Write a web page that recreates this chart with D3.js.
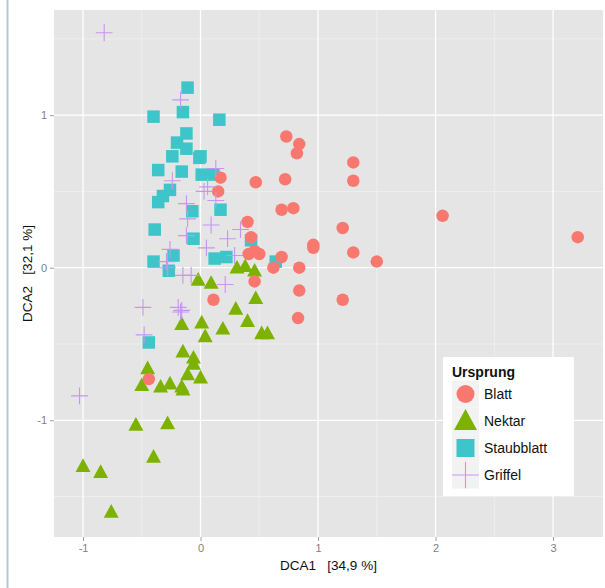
<!DOCTYPE html>
<html>
<head>
<meta charset="utf-8">
<script src="https://cdn.jsdelivr.net/npm/d3@7"></script>
<style>
  body { margin: 0; background: #fff; }
  svg { display: block; font-family: "Liberation Sans", Arial, sans-serif; }
</style>
</head>
<body>
<svg width="605" height="588"></svg>
<script>
// DCA scores: [DCA1, DCA2]
const blatt = [
  [0.73, 0.86], [0.84, 0.81], [0.82, 0.75], [1.30, 0.69], [1.30, 0.57],
  [0.17, 0.59], [0.15, 0.50], [0.47, 0.56], [0.72, 0.58], [0.69, 0.38],
  [0.79, 0.39], [0.40, 0.30], [1.21, 0.26], [2.06, 0.34], [3.21, 0.20],
  [0.43, 0.20], [0.96, 0.15], [0.96, 0.13], [1.30, 0.10], [1.50, 0.04],
  [0.41, 0.09], [0.50, 0.09], [0.46, 0.11], [0.69, 0.07], [0.62, 0.00],
  [0.84, 0.00], [0.46, -0.09], [0.84, -0.15], [1.21, -0.21], [0.83, -0.33],
  [0.11, -0.21], [-0.44, -0.73]
];
const nektar = [
  [0.31, 0.00], [0.38, 0.01], [0.46, -0.02], [-0.02, -0.08], [0.09, -0.10],
  [0.47, -0.20], [0.30, -0.27], [-0.16, -0.37], [0.01, -0.36], [0.04, -0.45],
  [0.19, -0.40], [0.40, -0.35], [0.52, -0.43], [0.57, -0.43], [-0.15, -0.55],
  [-0.06, -0.59], [-0.06, -0.63], [-0.11, -0.70], [0.00, -0.72], [-0.45, -0.66],
  [-0.50, -0.77], [-0.34, -0.78], [-0.26, -0.76], [-0.16, -0.78], [-0.15, -0.80],
  [-0.55, -1.03], [-0.28, -1.02], [-0.40, -1.24], [-1.00, -1.30], [-0.85, -1.34],
  [-0.76, -1.60]
];
const staubblatt = [
  [-0.11, 1.18], [-0.40, 0.99], [-0.15, 1.02], [0.16, 0.97], [-0.12, 0.88],
  [-0.20, 0.82], [-0.12, 0.78], [-0.24, 0.73], [0.00, 0.73], [-0.01, 0.72],
  [-0.36, 0.64], [-0.16, 0.63], [0.01, 0.61], [0.11, 0.61], [-0.26, 0.51],
  [-0.32, 0.47], [-0.36, 0.43], [-0.07, 0.37], [0.17, 0.38], [-0.39, 0.25],
  [-0.06, 0.19], [-0.23, 0.08], [-0.40, 0.04], [-0.27, -0.02], [0.12, 0.06],
  [0.22, 0.07], [0.43, 0.18], [0.64, 0.04], [-0.44, -0.49]
];
const griffel = [
  [-0.82, 1.54], [-0.17, 1.10], [0.13, 0.65], [-0.24, 0.57], [0.06, 0.53],
  [0.03, 0.50], [0.13, 0.44], [-0.12, 0.42], [-0.11, 0.32], [0.09, 0.28],
  [0.34, 0.25], [0.23, 0.19], [-0.12, 0.21], [0.05, 0.13], [-0.26, 0.12],
  [-0.29, 0.04], [-0.28, 0.00], [0.29, 0.08], [-0.15, -0.05], [-0.08, -0.05],
  [0.21, -0.11], [-0.49, -0.26], [-0.19, -0.26], [-0.16, -0.28], [-0.17, -0.29],
  [-0.48, -0.44], [-1.03, -0.84]
];
const groups = ["Blatt", "Nektar", "Staubblatt", "Griffel"];
const colors = ["#f8786f", "#7db300", "#3ec5c9", "#c894f2"];
const xTicks = [-1, 0, 1, 2, 3];
const yTicks = [-1, 0, 1];

const svg = d3.select("svg");
const panel = { left: 54, right: 603, top: 10, bottom: 537 };

const x = d3.scaleLinear().domain([-1.247, 3.425]).range([panel.left, panel.right]);
const y = d3.scaleLinear().domain([-1.765, 1.689]).range([panel.bottom, panel.top]);

// page border line on the left
svg.append("line")
  .attr("x1", 7.5).attr("x2", 7.5).attr("y1", 0).attr("y2", 588)
  .attr("stroke", "#b3c6d6").attr("stroke-width", 2);

svg.append("rect")
  .attr("x", panel.left).attr("y", panel.top)
  .attr("width", panel.right - panel.left).attr("height", panel.bottom - panel.top)
  .attr("fill", "#e5e5e5");

const grid = svg.append("g");
const xMinor = [-1.5, -0.5, 0.5, 1.5, 2.5].filter((d) => d > x.domain()[0]);
const yMinor = [-1.5, -0.5, 0.5, 1.5];
grid.selectAll(".xm").data(xMinor).join("line")
  .attr("x1", (d) => x(d)).attr("x2", (d) => x(d))
  .attr("y1", panel.top).attr("y2", panel.bottom)
  .attr("stroke", "#f2f2f2").attr("stroke-width", 0.7);
grid.selectAll(".ym").data(yMinor).join("line")
  .attr("y1", (d) => y(d)).attr("y2", (d) => y(d))
  .attr("x1", panel.left).attr("x2", panel.right)
  .attr("stroke", "#f2f2f2").attr("stroke-width", 0.7);
grid.selectAll(".xM").data(xTicks).join("line")
  .attr("x1", (d) => x(d)).attr("x2", (d) => x(d))
  .attr("y1", panel.top).attr("y2", panel.bottom)
  .attr("stroke", "#fff").attr("stroke-width", 1.3);
grid.selectAll(".yM").data(yTicks).join("line")
  .attr("y1", (d) => y(d)).attr("y2", (d) => y(d))
  .attr("x1", panel.left).attr("x2", panel.right)
  .attr("stroke", "#fff").attr("stroke-width", 1.3);

// axes
const fmt = (d) => String(d);
const xAxis = svg.append("g")
  .attr("transform", `translate(0,${panel.bottom})`)
  .call(d3.axisBottom(x).tickValues(xTicks).tickFormat(fmt).tickSize(4).tickPadding(3));
const yAxis = svg.append("g")
  .attr("transform", `translate(${panel.left},0)`)
  .call(d3.axisLeft(y).tickValues(yTicks).tickFormat(fmt).tickSize(4).tickPadding(3));
[xAxis, yAxis].forEach((a) => {
  a.select(".domain").remove();
  a.selectAll("line").attr("stroke", "#a0a0a0");
  a.selectAll("text").attr("fill", "#808080").attr("font-size", 11)
    .attr("font-family", "Liberation Sans, Arial, sans-serif");
});

svg.append("text")
  .attr("x", (panel.left + panel.right) / 2).attr("y", 570)
  .attr("text-anchor", "middle").attr("font-size", 13.5).attr("fill", "#111")
  .attr("xml:space", "preserve")
  .text("DCA1   [34,9 %]");
svg.append("text")
  .attr("transform", `translate(32,${(panel.top + panel.bottom) / 2}) rotate(-90)`)
  .attr("text-anchor", "middle").attr("font-size", 13.5).attr("fill", "#111")
  .attr("xml:space", "preserve")
  .text("DCA2   [32,1 %]");

// shapes
function drawShape(g, kind, cx, cy, s) {
  if (kind === 0) {
    g.append("circle").attr("cx", cx).attr("cy", cy).attr("r", s / 2).attr("fill", colors[0]);
  } else if (kind === 1) {
    const w = s * 1.15, h = s;
    g.append("path")
      .attr("d", `M${cx},${cy - h * 0.6}L${cx + w / 2},${cy + h * 0.45}L${cx - w / 2},${cy + h * 0.45}Z`)
      .attr("fill", colors[1]);
  } else if (kind === 2) {
    g.append("rect").attr("x", cx - s / 2).attr("y", cy - s / 2)
      .attr("width", s).attr("height", s).attr("fill", colors[2]);
  } else {
    const a = s * 0.7;
    g.append("path")
      .attr("d", `M${cx - a},${cy}H${cx + a}M${cx},${cy - a}V${cy + a}`)
      .attr("stroke", colors[3]).attr("stroke-width", 1.1).attr("fill", "none");
  }
}

const pts = svg.append("g");
const series = [nektar, staubblatt, blatt, griffel];
const kinds = [1, 2, 0, 3];
const sizes = { 0: 12.5, 1: 13, 2: 12.5, 3: 12 };
series.forEach((data, i) => {
  const k = kinds[i];
  data.forEach((d) => drawShape(pts, k, x(d[0]), y(d[1]), sizes[k]));
});

// legend
const lg = svg.append("g").attr("transform", "translate(443,357)");
lg.append("rect").attr("width", 131).attr("height", 139).attr("fill", "#fff");
lg.append("text").attr("x", 9).attr("y", 20)
  .attr("font-size", 14).attr("font-weight", "bold").attr("fill", "#111")
  .text("Ursprung");
const lsizes = [18, 20, 18, 19];
groups.forEach((name, i) => {
  const cy = 37 + i * 27;
  lg.append("rect").attr("x", 9).attr("y", cy - 13.5).attr("width", 27).attr("height", 27)
    .attr("fill", "#f2f2f2");
  drawShape(lg, i, 22.5, cy, lsizes[i]);
  lg.append("text").attr("x", 41).attr("y", cy + 5)
    .attr("font-size", 14).attr("fill", "#111").text(name);
});
</script>
</body>
</html>
